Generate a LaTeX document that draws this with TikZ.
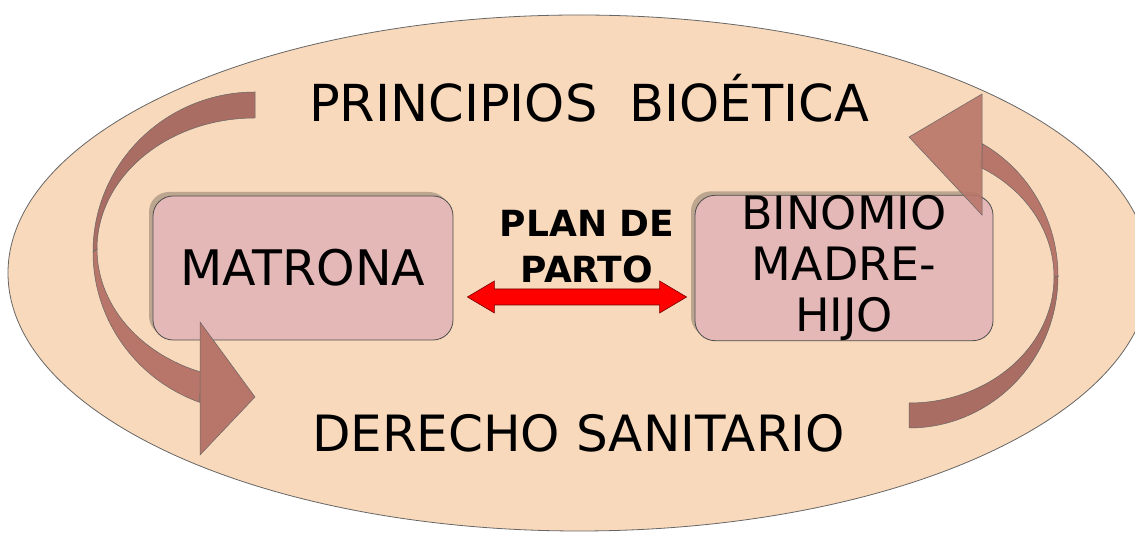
\documentclass[tikz,border=0pt]{standalone}
\usepackage{fontspec}
\setmainfont{DejaVu Sans}
\usetikzlibrary{shadows,calc}
\definecolor{peach}{HTML}{F9D9BB}
\definecolor{boxpink}{HTML}{E5B8B8}
\definecolor{arrowdark}{HTML}{A96D63}
\definecolor{arrowlight}{HTML}{B8766A}
\definecolor{shadowc}{HTML}{BCA690}
\definecolor{planred}{HTML}{FF0000}
\begin{document}
\begin{tikzpicture}[x=1pt,y=1pt,
  box/.style={draw=black!70, line width=0.8pt, fill=boxpink, rounded corners=20pt,
    minimum width=300pt, minimum height=144pt, inner sep=0pt, align=center,
    drop shadow={shadow xshift=-4pt, shadow yshift=4pt, fill=shadowc, opacity=1}},
  bigtext/.style={font=\fontsize{50}{60}\selectfont, inner sep=0pt},
  band/.style={draw=black!60, line width=0.5pt},
]
\useasboundingbox (0,0) rectangle (1135,534);
\clip (0,0) rectangle (1135,534);
% background ellipse
\draw[fill=peach, draw=black!60, line width=0.8pt] (579,261) ellipse [x radius=571, y radius=258];

% boxes
\node[box, font=\fontsize{49}{51}\selectfont] (mat) at (303,266) {MATRONA};
\node[box, minimum width=298pt, font=\fontsize{46}{51}\selectfont] (bin) at (844,266) {BINOMIO\\MADRE-\\HIJO};

% left curved arrow
\coordinate (lc) at (255,282);
\fill[arrowdark, band] (255,442) arc[start angle=90, end angle=180, x radius=162, y radius=160]
  -- (97,285) arc[start angle=180, end angle=90, x radius=158, y radius=131] -- cycle;
\fill[arrowlight, band] (93,282) arc[start angle=180, end angle=250, x radius=162, y radius=160]
  -- (201,161.9) arc[start angle=250, end angle=180, x radius=158, y radius=131] -- cycle;
\fill[arrowlight, band] (200,212) -- (255,137) -- (200,79) -- cycle;

% right curved arrow
\fill[arrowdark, band] (909,106) arc[start angle=-90, end angle=0, x radius=149, y radius=152]
  -- (1054,257) arc[start angle=0, end angle=-90, x radius=145, y radius=126] -- cycle;
\fill[arrowlight, band] (1058,258) arc[start angle=0, end angle=60.5, x radius=149, y radius=152]
  -- (980.4,366.7) arc[start angle=60.5, end angle=0, x radius=145, y radius=126] -- cycle;
\fill[arrowlight, band, fill opacity=0.9] (982,440) -- (909,397) -- (982,319) -- cycle;

% titles
\node[bigtext, anchor=base, font=\fontsize{51}{60}\selectfont] (pb) at (589,412) {PRINCIPIOS\ \ BIOÉTICA};
\node[bigtext, anchor=base] (ds) at (578.5,82) {DERECHO SANITARIO};

% plan de parto
\node[inner sep=0pt, anchor=base, font=\bfseries\fontsize{36}{46}\selectfont] (plan) at (587,297) {PLAN DE};
\node[inner sep=0pt, anchor=base, font=\bfseries\fontsize{36}{46}\selectfont] (parto) at (587,251) {PARTO};

% double red arrow between the boxes
\coordinate (al) at ($(mat.east)+(14,-29)$);
\coordinate (ar) at ($(bin.west)+(-8,-29)$);
\fill[planred, draw=black!55!red, line width=0.6pt]
  (al) -- ($(al)+(27,16)$) -- ($(al)+(27,8)$) -- ($(ar)+(-27,8)$) -- ($(ar)+(-27,16)$)
  -- (ar) -- ($(ar)+(-27,-16)$) -- ($(ar)+(-27,-8)$) -- ($(al)+(27,-8)$) -- ($(al)+(27,-16)$) -- cycle;
\end{tikzpicture}
\end{document}
